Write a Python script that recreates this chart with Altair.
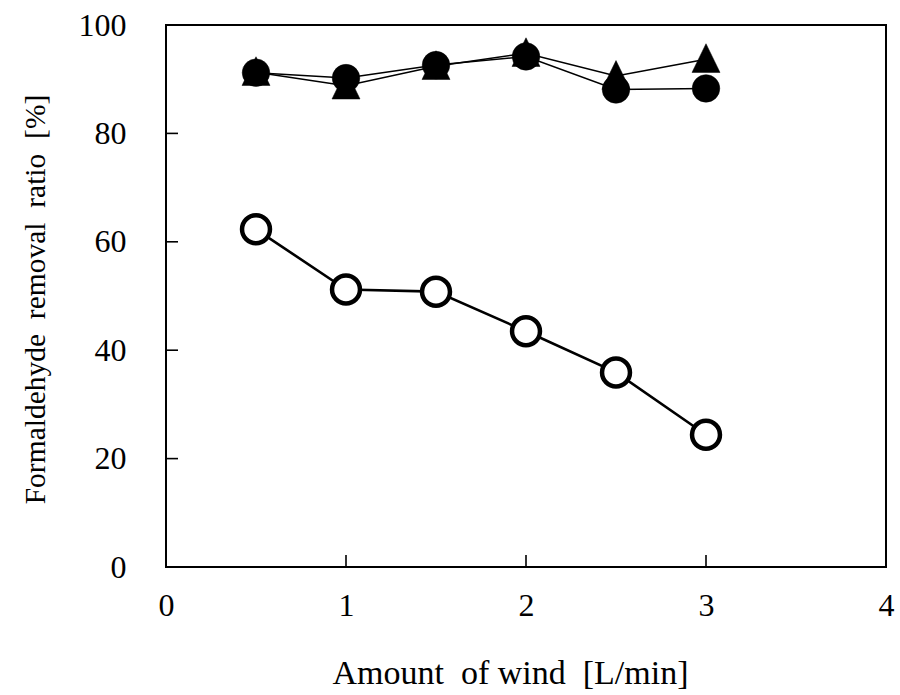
import altair as alt
import pandas as pd

# Air flow settings [L/min]
wind = [0.5, 1.0, 1.5, 2.0, 2.5, 3.0]

# Formaldehyde removal ratio [%] for the three conditions
open_circle = [62.3, 51.2, 50.8, 43.5, 35.9, 24.4]
filled_circle = [91.2, 90.2, 92.6, 94.2, 88.1, 88.3]
filled_triangle = [91.3, 88.8, 92.4, 94.8, 90.6, 93.7]

x_ticks = [0, 1, 2, 3, 4]
y_ticks = [0, 20, 40, 60, 80, 100]

W, H = 720, 542
FONT = "Liberation Serif"
TICK_LEN = 12

df = pd.DataFrame({
    "wind": wind * 3,
    "ratio": open_circle + filled_circle + filled_triangle,
    "series": ["open"] * 6 + ["circle"] * 6 + ["triangle"] * 6,
})

x_scale = alt.Scale(domain=[0, 4], nice=False, zero=False)
y_scale = alt.Scale(domain=[0, 100], nice=False, zero=False)

x_axis = alt.Axis(
    values=x_ticks, format="d", domain=False, ticks=False, grid=False,
    labelFont=FONT, labelFontSize=32, labelColor="black", labelPadding=23,
    labelFlush=False, labelOverlap=False,
    title="Amount\u00a0 of wind\u00a0 [L/min]",
    titleFont=FONT, titleFontSize=34, titleFontWeight="normal", titleColor="black",
    titleX=344, titleY=106, titleAlign="center", titleBaseline="middle",
)
y_axis = alt.Axis(
    values=y_ticks, format="d", domain=False, ticks=False, grid=False,
    labelFont=FONT, labelFontSize=32, labelColor="black", labelPadding=40,
    labelBaseline="middle", labelFlush=False, labelOverlap=False,
    title="Formaldehyde\u00a0 removal\u00a0 ratio\u00a0 [%]",
    titleFont=FONT, titleFontSize=29.5, titleFontWeight="normal", titleColor="black",
    titleX=-131, titleY=H / 2 + 3, titleAngle=270,
    titleAlign="center", titleBaseline="middle",
)

base = alt.Chart(df)
X = alt.X("wind:Q", scale=x_scale, axis=x_axis)
Y = alt.Y("ratio:Q", scale=y_scale, axis=y_axis)

line_open = base.transform_filter(alt.datum.series == "open").mark_line(
    color="black", strokeWidth=2.6
).encode(x=X, y=Y)

line_circle = base.transform_filter(alt.datum.series == "circle").mark_line(
    color="black", strokeWidth=1.5
).encode(x=X, y=Y)

line_tri = base.transform_filter(alt.datum.series == "triangle").mark_line(
    color="black", strokeWidth=1.5
).encode(x=X, y=Y)

pts_tri = base.transform_filter(alt.datum.series == "triangle").mark_point(
    shape="M0,-1.1L-1,0.95L1,0.95Z", size=784, filled=True,
    fill="black", stroke="black", strokeWidth=0.5, opacity=1
).encode(x=X, y=Y)

pts_circle = base.transform_filter(alt.datum.series == "circle").mark_point(
    shape="circle", size=760, filled=True, fill="black", stroke="black",
    strokeWidth=0.5, opacity=1
).encode(x=X, y=Y)

pts_open = base.transform_filter(alt.datum.series == "open").mark_point(
    shape="circle", size=780, filled=True, fill="white", stroke="black",
    strokeWidth=4.5, opacity=1
).encode(x=X, y=Y)

# inward tick marks drawn through the same scales
xt = pd.DataFrame({"wind": x_ticks})
yt = pd.DataFrame({"ratio": y_ticks})
ticks_x = alt.Chart(xt).mark_rule(color="black", strokeWidth=1.6).encode(
    x=X, y=alt.value(H), y2=alt.value(H - TICK_LEN),
)
ticks_y = alt.Chart(yt).mark_rule(color="black", strokeWidth=1.6).encode(
    y=Y, x=alt.value(0), x2=alt.value(TICK_LEN),
)

chart = alt.layer(
    ticks_x, ticks_y, line_open, line_circle, line_tri, pts_tri, pts_circle, pts_open
).properties(
    width=W, height=H,
    autosize=alt.AutoSizeParams(type="none"),
    padding={"left": 166, "top": 25, "right": 14, "bottom": 128},
    background="white",
).configure_view(stroke="black", strokeWidth=2)

chart.save("out.html", embed_options={"renderer": "svg", "actions": False})
